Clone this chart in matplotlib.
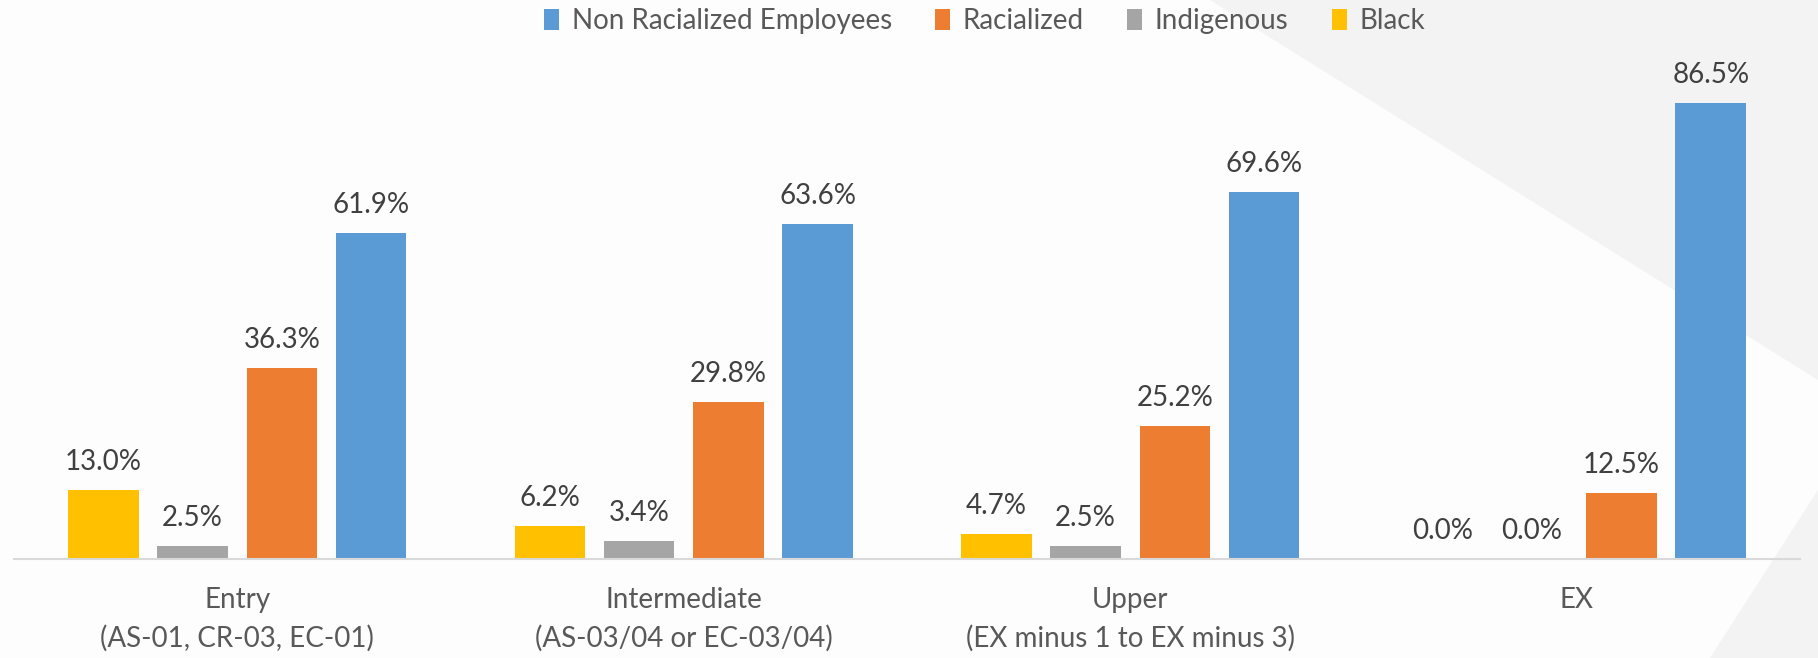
import numpy as np
import matplotlib
matplotlib.use('Agg')
import matplotlib.pyplot as plt
from matplotlib.patches import Polygon

plt.rcParams['font.family'] = ['Lato', 'DejaVu Sans']

# ---- data ----
categories = ['Entry\n(AS-01, CR-03, EC-01)',
              'Intermediate\n(AS-03/04 or EC-03/04)',
              'Upper\n(EX minus 1 to EX minus 3)',
              'EX']
series_names = ['Black', 'Indigenous', 'Racialized', 'Non Racialized Employees']
black = [13.0, 6.2, 4.7, 0.0]
indigenous = [2.5, 3.4, 2.5, 0.0]
racialized = [36.3, 29.8, 25.2, 12.5]
non_racialized = [61.9, 63.6, 69.6, 86.5]
colors = ['#FFC000', '#A5A5A5', '#ED7D31', '#5B9BD5']

text_col = '#404040'

fig = plt.figure(figsize=(18.18, 6.58), dpi=100)
fig.patch.set_facecolor('#fdfdfd')

# faint decorative background shapes (behind the axes)
W, H = 1818.0, 658.0
def px(pts):
    return [(x / W, 1 - y / H) for x, y in pts]
fig.patches.append(Polygon(px([(1210, 0), (1818, 0), (1818, 380)]),
                           closed=True, transform=fig.transFigure,
                           facecolor='#f3f3f4', edgecolor='none', zorder=-5))
fig.patches.append(Polygon(px([(1818, 490), (1710, 658), (1818, 658)]),
                           closed=True, transform=fig.transFigure,
                           facecolor='#f3f3f4', edgecolor='none', zorder=-5))

ax = fig.add_axes([14 / W, 1 - 559 / H, (1800 - 14) / W, 527 / H])
ax.set_facecolor('none')
ax.set_zorder(2)

x = np.arange(len(categories))
width = 0.158
offsets = [-0.3, -0.1, 0.1, 0.3]
all_series = [black, indigenous, racialized, non_racialized]

bars = []
for vals, off, col, name in zip(all_series, offsets, colors, series_names):
    b = ax.bar(x + off, vals, width, color=col, label=name, zorder=2)
    bars.append(b)
    for xi, v in zip(x + off, vals):
        ax.annotate(f'{v:.1f}%', xy=(xi, v), xytext=(0, 14.5),
                    textcoords='offset points', ha='center', va='baseline',
                    fontsize=20, color=text_col)

ax.set_xlim(-0.5, 3.5)
ax.set_ylim(0, 100)
ax.set_yticks([])
for s in ['top', 'right', 'left']:
    ax.spines[s].set_visible(False)
ax.spines['bottom'].set_color('#d9d9d9')
ax.spines['bottom'].set_linewidth(1.5)
ax.set_xticks(x)
ax.set_xticklabels(categories, fontsize=20, color='#595959', linespacing=1.55)
ax.tick_params(axis='x', length=0, pad=20)

# legend in reversed order
handles = bars[::-1]
labels = series_names[::-1]
fig.legend(handles, labels, loc='center', bbox_to_anchor=(0.5416, 0.968),
           ncol=4, frameon=False, fontsize=20, handlelength=0.55,
           handleheight=0.75, handletextpad=0.45, columnspacing=1.55,
           labelcolor='#595959')

fig.savefig('out.png', dpi=100, facecolor=fig.get_facecolor())
